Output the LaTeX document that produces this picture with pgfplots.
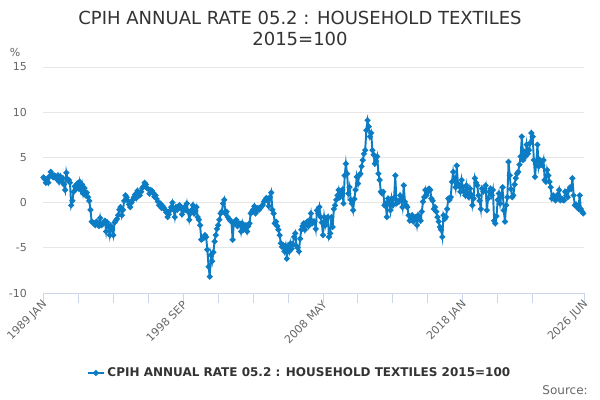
\documentclass[border=0pt]{standalone}
\usepackage{fontspec}
\setmainfont{DejaVu Sans}
\usepackage{pgfplots}
\pgfplotsset{compat=1.18}
\definecolor{lineblue}{RGB}{12,125,196}
\definecolor{axisc}{HTML}{CCD6EB}
\definecolor{gridc}{HTML}{E6E6E6}
\definecolor{labc}{HTML}{666666}
\definecolor{titc}{HTML}{333333}
\begin{document}
\begin{tikzpicture}
\useasboundingbox (0,0) rectangle (450pt,300pt);
\node[anchor=base, text=titc, font=\fontsize{13.5pt}{16pt}\selectfont] at (225pt,281.6pt) {CPIH ANNUAL RATE 05.2 : HOUSEHOLD TEXTILES};
\node[anchor=base, text=titc, font=\fontsize{13.5pt}{16pt}\selectfont] at (225pt,265.9pt) {2015=100};
\node[text=labc, font=\fontsize{8.25pt}{10pt}\selectfont] at (11.25pt,261pt) {\%};
\node[anchor=east, text=labc, font=\fontsize{9pt}{11pt}\selectfont, inner sep=0pt] at (441pt,7.5pt) {Source:};
\begin{axis}[
  at={(32.6pt,80.25pt)}, anchor=south west,
  scale only axis, width=405.75pt, height=169.5pt,
  xmin=0, xmax=449, ymin=-10, ymax=15,
  axis x line*=bottom, axis y line*=left,
  x axis line style={draw=axisc, line width=0.75pt},
  y axis line style={draw=none},
  ytick={-10,-5,0,5,10,15},
  yticklabels={-10,-5,0,5,10,15},
  ymajorgrids, grid style={draw=gridc, line width=0.75pt},
  tick align=outside, major tick length=7.5pt, minor tick length=7.5pt,
  xtick={0,116,232,348,449},
  xticklabels={1989 JAN,1998 SEP,2008 MAY,2018 JAN,2026 JUN},
  minor xtick={29,58,87,145,174,203,261,290,319,377,406},
  xtick style={draw=axisc, line width=0.75pt},
  ytick style={draw=none},
  every tick label/.append style={font=\fontsize{8.25pt}{10pt}\selectfont, text=labc},
  xticklabel style={rotate=45, anchor=east, inner sep=1pt, xshift=2.2pt, yshift=-0.8pt},
  yticklabel style={anchor=east, xshift=-1.4pt},
  legend style={at={(0.474,-0.354)}, anchor=center, draw=none, fill=none,
    font=\bfseries\fontsize{9pt}{11pt}\selectfont, text=titc},
  legend image code/.code={\draw[mark repeat=2,mark phase=2,#1] plot coordinates {(0pt,0pt)(6pt,0pt)(12pt,0pt)};},
]
\addplot[color=lineblue, line width=1.45pt, mark=*, mark size=1.4pt, mark options={solid}] coordinates {
(0,2.8)(1,2.6)(2,2.2)(3,2.6)(4,2.2)(5,2.9)(6,3.4)(7,3.1)(8,2.8)(9,3.0)(10,2.9)(11,2.6)(12,3.0)(13,2.3)(14,2.9)(15,2.4)(16,2.7)(17,2.0)(18,1.4)(19,3.3)(20,2.6)(21,2.5)(22,2.2)(23,-0.3)(24,0.2)(25,1.2)(26,1.8)(27,1.5)(28,2.1)(29,1.6)(30,2.3)(31,1.4)(32,2.0)(33,1.0)(34,1.6)(35,0.8)(36,1.1)(37,0.6)(38,0.2)(39,-0.8)(40,-2.1)(41,-2.2)(42,-2.3)(43,-2.5)(44,-2.1)(45,-2.4)(46,-2.6)(47,-1.7)(48,-2.5)(49,-2.4)(50,-2.2)(51,-2.0)(52,-3.2)(53,-2.2)(54,-2.6)(55,-3.6)(56,-2.6)(57,-3.0)(58,-3.6)(59,-2.2)(60,-2.0)(61,-1.8)(62,-1.4)(63,-0.8)(64,-0.5)(65,-1.4)(66,-0.8)(67,0.2)(68,0.8)(69,0.6)(70,0.2)(71,-0.2)(72,-0.5)(73,0.0)(74,0.3)
(75,0.6)(76,0.9)(77,0.5)(78,1.3)(79,0.9)(80,0.8)(81,1.2)(82,1.6)(83,1.8)(84,2.2)(85,2.0)(86,1.6)(87,1.5)(88,1.0)(89,1.4)(90,1.3)(91,1.1)(92,0.65)(93,0.8)(94,0.4)(95,0.1)(96,-0.3)(97,-0.1)(98,-0.6)(99,-0.4)(100,-0.6)(101,-0.8)(102,-1.1)(103,-1.6)(104,-1.3)(105,-0.9)(106,-0.5)(107,0.0)(108,-0.8)(109,-1.6)(110,-0.5)(111,-0.8)(112,-0.4)(113,-0.3)(114,-0.5)(115,-1.3)(116,-0.9)(117,-0.5)(118,-0.8)(119,-0.1)(120,-1.0)(121,-1.9)(122,-1.2)(123,-0.8)(124,-0.3)(125,-1.2)(126,-0.9)(127,-0.5)(128,-1.6)(129,-1.9)(130,-2.5)(131,-4.1)(132,-4.0)(133,-3.9)(134,-3.6)(135,-3.8)(136,-5.2)(137,-7.1)(138,-8.2)(139,-5.8)(140,-6.5)(141,-5.5)(142,-4.3)(143,-3.6)(144,-2.9)(145,-2.5)(146,-1.9)(147,-1.2)(148,-1.0)(149,-0.1)(150,0.3)
(151,-1.2)(152,-1.0)(153,-1.6)(154,-1.8)(155,-2.0)(156,-2.1)(157,-4.1)(158,-2.3)(159,-2.2)(160,-1.9)(161,-2.6)(162,-2.4)(163,-2.3)(164,-3.2)(165,-2.3)(166,-3.0)(167,-2.7)(168,-2.5)(169,-3.2)(170,-2.6)(171,-2.3)(172,-1.2)(173,-1.0)(174,-0.8)(175,-0.4)(176,-1.2)(177,-0.9)(178,-0.6)(179,-0.8)(180,-0.6)(181,-0.4)(182,-0.25)(183,0.1)(184,0.3)(185,0.5)(186,0.2)(187,-0.4)(188,0.6)(189,1.1)(190,-0.8)(191,-1.2)(192,-2.3)(193,-2.1)(194,-2.6)(195,-3.0)(196,-3.6)(197,-4.5)(198,-4.9)(199,-4.7)(200,-5.4)(201,-4.8)(202,-6.2)(203,-4.9)(204,-5.4)(205,-4.5)(206,-5.1)(207,-4.6)(208,-3.8)(209,-3.4)(210,-4.8)(211,-5.0)(212,-5.4)(213,-4.0)(214,-3.0)(215,-2.6)(216,-2.3)(217,-3.0)(218,-2.4)(219,-2.1)(220,-2.6)(221,-1.9)(222,-1.2)(223,-2.3)(224,-2.1)(225,-2.1)
(226,-2.9)(227,-0.85)(228,-1.2)(229,-0.5)(230,-1.6)(231,-2.2)(232,-3.6)(233,-1.6)(234,-2.5)(235,-1.9)(236,-1.6)(237,-3.8)(238,-3.4)(239,-1.6)(240,-2.7)(241,-0.7)(242,-0.3)(243,0.3)(244,0.8)(245,1.4)(246,0.6)(247,1.0)(248,1.4)(249,-0.1)(250,3.0)(251,4.3)(252,3.2)(253,1.0)(254,1.7)(255,0.3)(256,-0.1)(257,-0.85)(258,0.4)(259,1.4)(260,2.85)(261,2.1)(262,3.0)(263,3.2)(264,4.0)(265,4.7)(266,5.4)(267,5.8)(268,8.0)(269,9.1)(270,8.4)(271,7.3)(272,7.7)(273,5.8)(274,5.3)(275,4.3)(276,4.6)(277,5.1)(278,3.2)(279,2.5)(280,1.2)(281,1.0)(282,1.2)(283,-0.3)(284,-0.1)(285,-1.6)(286,0.45)(287,0.2)(288,-0.85)(289,0.45)(290,-0.3)(291,0.5)(292,3.0)(293,-0.1)(294,0.2)(295,0.1)(296,0.8)(297,0.3)(298,-0.5)(299,1.9)(300,0.1)
(301,-0.3)(302,-0.5)(303,-1.4)(304,-2.0)(305,-1.7)(306,-1.4)(307,-2.1)(308,-1.8)(309,-1.6)(310,-2.5)(311,-1.4)(312,-1.7)(313,-2.0)(314,-1.0)(315,0.1)(316,0.6)(317,1.4)(318,0.8)(319,1.2)(320,1.55)(321,1.4)(322,0.45)(323,0.2)(324,-0.7)(325,-0.5)(326,-1.0)(327,-1.6)(328,-2.1)(329,-2.7)(330,-3.0)(331,-3.8)(332,-1.4)(333,-1.8)(334,-1.6)(335,-0.7)(336,0.45)(337,0.3)(338,0.6)(339,2.3)(340,3.4)(341,2.5)(342,1.7)(343,4.1)(344,2.1)(345,1.8)(346,1.2)(347,2.5)(348,1.7)(349,1.2)(350,0.8)(351,1.9)(352,1.0)(353,0.6)(354,1.55)(355,0.9)(356,-0.3)(357,0.45)(358,2.7)(359,2.2)(360,1.9)(361,0.8)(362,0.2)(363,-0.7)(364,1.55)(365,1.2)(366,1.5)(367,1.9)(368,-0.85)(369,0.45)(370,1.2)(371,1.55)(372,0.8)(373,1.4)(374,-2.0)(375,-2.3)
(376,-1.5)(377,0.3)(378,1.0)(379,-0.1)(380,0.8)(381,1.7)(382,-0.85)(383,-2.1)(384,-0.3)(385,0.6)(386,4.5)(387,3.0)(388,1.5)(389,0.6)(390,0.8)(391,2.0)(392,2.7)(393,3.2)(394,3.4)(395,4.2)(396,5.1)(397,7.3)(398,4.7)(399,5.6)(400,5.1)(401,6.4)(402,5.4)(403,5.8)(404,6.6)(405,7.7)(406,7.3)(407,4.7)(408,2.85)(409,4.5)(410,6.4)(411,4.0)(412,4.7)(413,4.3)(414,4.1)(415,4.7)(416,2.5)(417,2.3)(418,3.6)(419,3.0)(420,2.3)(421,1.7)(422,0.45)(423,0.8)(424,0.6)(425,0.25)(426,0.45)(427,0.9)(428,1.4)(429,0.25)(430,0.45)(431,0.3)(432,0.25)(433,1.2)(434,0.8)(435,0.6)(436,1.4)(437,1.7)(438,1.5)(439,2.7)(440,0.8)(441,-0.3)(442,-0.2)(443,-0.5)(444,-0.7)(445,0.8)(446,-0.7)(447,-1.0)(448,-1.2)
};
\addlegendentry{CPIH ANNUAL RATE 05.2 : HOUSEHOLD TEXTILES 2015=100}
\end{axis}
\end{tikzpicture}
\end{document}
